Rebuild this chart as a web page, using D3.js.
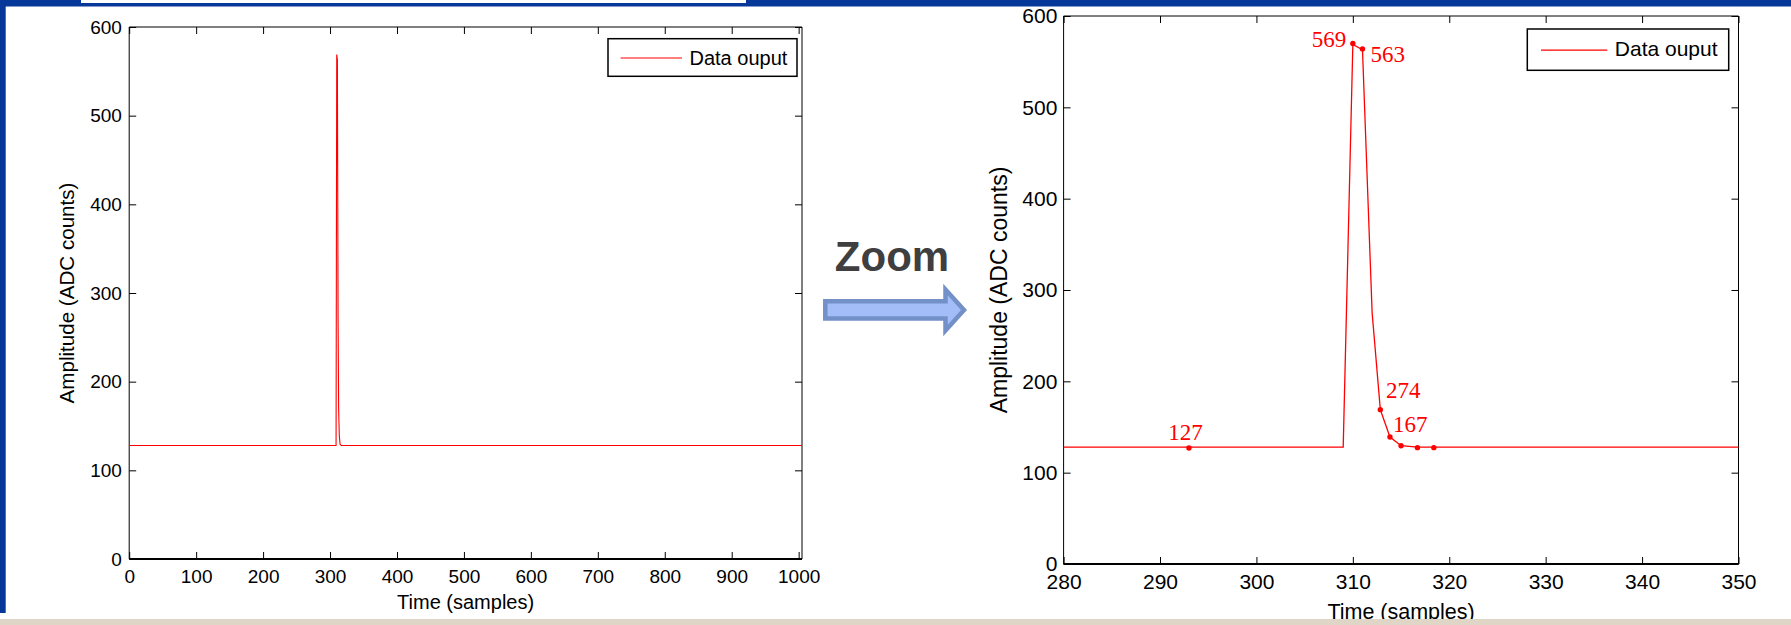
<!DOCTYPE html>
<html>
<head>
<meta charset="utf-8">
<script src="https://cdn.jsdelivr.net/npm/d3@7"></script>
<style>
  html, body { margin: 0; padding: 0; background: #fff; }
  svg { display: block; }
  text { font-family: "Liberation Sans", Arial, sans-serif; }
</style>
</head>
<body>
<svg id="slide" width="1791" height="625"></svg>
<script>
// samples of the ADC output (time in samples, amplitude in ADC counts)
var sampleTime = [0, 309, 310, 311, 312, 312.85, 313.85, 315, 316.7, 1005];
var sampleAmp = [128, 128, 569, 563, 275, 169, 139, 129.5, 128, 128];

// annotated points on the zoomed plot
var markTime = [293, 310, 311, 312.85, 313.85, 315, 316.7, 318.4];
var markAmp = [127, 570, 564, 169, 139, 129.5, 127.4, 127.4];
var markText = ['127', '569', '563', '274', '167', '', '', ''];

// axis ticks
var fullTimeTicks = [0, 100, 200, 300, 400, 500, 600, 700, 800, 900, 1000];
var zoomTimeTicks = [280, 290, 300, 310, 320, 330, 340, 350];
var ampTicks = [0, 100, 200, 300, 400, 500, 600];

var legendLabel = 'Data ouput';
var xLabel = 'Time (samples)';
var yLabel = 'Amplitude (ADC counts)';

var svg = d3.select('#slide');

// slide frame
svg.append('rect').attr('x', 0).attr('y', 0).attr('width', 1791).attr('height', 6.5).style('fill', '#06389a');
svg.append('rect').attr('x', 0).attr('y', 0).attr('width', 5.7).attr('height', 613).style('fill', '#06389a');
svg.append('rect').attr('x', 81).attr('y', 0).attr('width', 665).attr('height', 3).style('fill', '#fff');

var points = sampleTime.map(function (t, i) { return { t: t, a: sampleAmp[i] }; });
var marks = markTime.map(function (t, i) { return { t: t, a: markAmp[i], label: markText[i] }; });

function drawPanel(cfg) {
    var x = d3.scaleLinear().domain(cfg.xDomain).range([cfg.left, cfg.right]);
    var y = d3.scaleLinear().domain([0, 600]).range([cfg.bottom, cfg.top]);
    var g = svg.append('g').attr('class', cfg.id);
    var fmt = d3.format('d');

    g.append('clipPath').attr('id', 'clip-' + cfg.id)
        .append('rect')
        .attr('x', cfg.left).attr('y', cfg.top)
        .attr('width', cfg.right - cfg.left).attr('height', cfg.bottom - cfg.top);

    // ticks on all four sides, pointing inward
    var axes = [
        [d3.axisBottom(x).tickValues(cfg.xTicks).tickFormat(fmt).tickPadding(cfg.xPad), 'translate(0,' + cfg.bottom + ')'],
        [d3.axisTop(x).tickValues(cfg.xTicks).tickFormat(''), 'translate(0,' + cfg.top + ')'],
        [d3.axisLeft(y).tickValues(ampTicks).tickFormat(fmt).tickPadding(cfg.yPad), 'translate(' + cfg.left + ',0)'],
        [d3.axisRight(y).tickValues(ampTicks).tickFormat(''), 'translate(' + cfg.right + ',0)']
    ];
    axes.forEach(function (a) {
        var ax = g.append('g').attr('transform', a[1])
            .call(a[0].tickSizeInner(-7).tickSizeOuter(0));
        ax.select('.domain').remove();
        ax.selectAll('line').style('stroke', '#000').style('stroke-width', 1);
        ax.selectAll('text')
            .style('font-family', '"Liberation Sans", Arial, sans-serif')
            .style('font-size', cfg.tickFont + 'px')
            .style('fill', '#000');
    });

    // box
    g.append('path')
        .attr('d', 'M' + cfg.left + ',' + cfg.bottom + 'V' + cfg.top + 'H' + cfg.right + 'V' + cfg.bottom)
        .style('fill', 'none').style('stroke', '#000').style('stroke-width', 1);
    g.append('line')
        .attr('x1', cfg.left).attr('x2', cfg.right)
        .attr('y1', cfg.bottom).attr('y2', cfg.bottom)
        .style('stroke', '#000').style('stroke-width', 2);

    // data line
    var line = d3.line().x(function (d) { return x(d.t); }).y(function (d) { return y(d.a); });
    g.append('path')
        .datum(points)
        .attr('clip-path', 'url(#clip-' + cfg.id + ')')
        .attr('d', line)
        .style('fill', 'none')
        .style('stroke', '#ff0000')
        .style('stroke-width', cfg.lineWidth);

    if (cfg.annotate) {
        g.selectAll('.mark').data(marks).enter()
            .append('circle')
            .attr('class', 'mark')
            .attr('cx', function (d) { return x(d.t); })
            .attr('cy', function (d) { return y(d.a); })
            .attr('r', 2.7)
            .style('fill', '#ff0000');

        var offsets = {
            '127': [-3.5, -7.7, 'middle'],
            '569': [-6.5, 3.7, 'end'],
            '563': [8, 13, 'start'],
            '274': [5.7, -11.7, 'start'],
            '167': [3, -5.3, 'start']
        };
        g.selectAll('.mark-label').data(marks.filter(function (d) { return d.label; })).enter()
            .append('text')
            .attr('class', 'mark-label')
            .attr('x', function (d) { return x(d.t) + offsets[d.label][0]; })
            .attr('y', function (d) { return y(d.a) + offsets[d.label][1]; })
            .attr('text-anchor', function (d) { return offsets[d.label][2]; })
            .style('font-family', '"Liberation Serif", "Times New Roman", serif')
            .style('font-size', '23px')
            .style('fill', '#ff0000')
            .text(function (d) { return d.label; });
    }

    // axis labels
    g.append('text')
        .attr('x', (cfg.left + cfg.right) / 2)
        .attr('y', cfg.xLabelY)
        .attr('text-anchor', 'middle')
        .style('font-size', cfg.xLabelFont + 'px')
        .text(xLabel);
    g.append('text')
        .attr('transform', 'translate(' + cfg.yLabelX + ',' + ((cfg.top + cfg.bottom) / 2) + ')rotate(-90)')
        .attr('text-anchor', 'middle')
        .style('font-size', cfg.yLabelFont + 'px')
        .text(yLabel);

    // legend
    var lg = g.append('g').attr('transform', 'translate(' + cfg.legend[0] + ',' + cfg.legend[1] + ')');
    lg.append('rect')
        .attr('width', cfg.legend[2]).attr('height', cfg.legend[3])
        .style('fill', '#fff').style('stroke', '#000').style('stroke-width', 1.5);
    lg.append('line')
        .attr('x1', cfg.legend[4]).attr('x2', cfg.legend[5])
        .attr('y1', cfg.legend[3] / 2 + 0.5).attr('y2', cfg.legend[3] / 2 + 0.5)
        .style('stroke', '#ff0000').style('stroke-width', 1.2);
    lg.append('text')
        .attr('x', cfg.legend[5] + 7.5)
        .attr('y', cfg.legend[6])
        .style('font-size', cfg.legendFont + 'px')
        .text(legendLabel);
}

drawPanel({
    id: 'overview', xDomain: [0, 1005], xTicks: fullTimeTicks,
    left: 129.2, right: 802, top: 27, bottom: 559,
    tickFont: 19, xPad: 10.5, yPad: 7.3, lineWidth: 1.1,
    xLabelY: 608.5, xLabelFont: 20, yLabelX: 74, yLabelFont: 20.6,
    legend: [608, 38.7, 189, 37.6, 12.6, 74, 26], legendFont: 20,
    annotate: false
});

drawPanel({
    id: 'zoomed', xDomain: [280, 350], xTicks: zoomTimeTicks,
    left: 1063.6, right: 1738.5, top: 16, bottom: 564,
    tickFont: 21, xPad: 10.5, yPad: 6.2, lineWidth: 1.3,
    xLabelY: 618.7, xLabelFont: 21.5, yLabelX: 1006.7, yLabelFont: 23,
    legend: [1527.3, 29, 201.4, 41.3, 13.7, 80, 27], legendFont: 21,
    annotate: true
});

// "Zoom" caption and arrow between the panels
svg.append('text')
    .attr('x', 892).attr('y', 271)
    .attr('text-anchor', 'middle')
    .style('font-size', '42px').style('font-weight', 'bold')
    .style('fill', '#3f3f3f')
    .text('Zoom');
svg.append('path')
    .attr('d', 'M825.3,301.3 H945.5 V289.5 L964,310 L945.5,330.5 V318.4 H825.3 Z')
    .style('fill', '#a2bdf7')
    .style('stroke', '#7390c8')
    .style('stroke-width', 4.5)
    .style('stroke-linejoin', 'miter');

// beige strip at the bottom of the slide
svg.append('rect').attr('x', 0).attr('y', 619).attr('width', 1791).attr('height', 6).style('fill', '#e0d6c7');
</script>
</body>
</html>
